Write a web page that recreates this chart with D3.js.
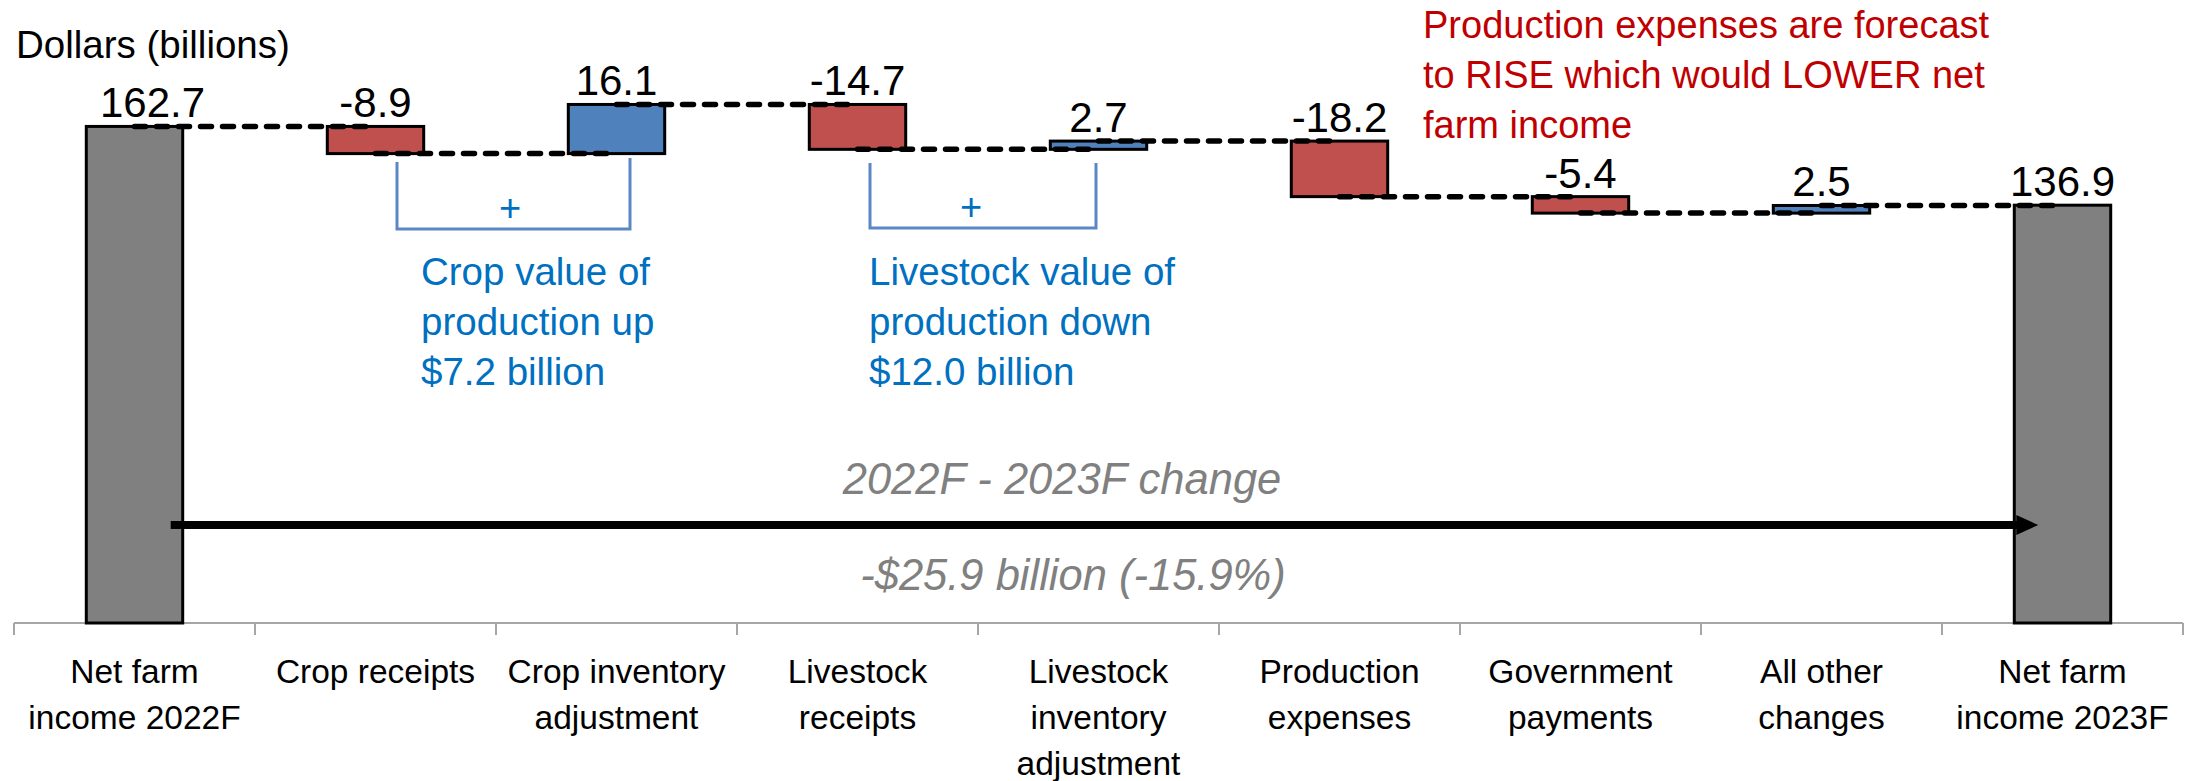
<!DOCTYPE html>
<html>
<head>
<meta charset="utf-8">
<script src="https://cdn.jsdelivr.net/npm/d3@7"></script>
<style>
	body { margin: 0; background: #fff; }
	svg { display: block; font-family: "Liberation Sans", Arial, sans-serif; }
</style>
</head>
<body>
<div id="root"></div>
<script>

// chart data
const categories = [
	"Net farm\nincome 2022F",
	"Crop receipts",
	"Crop inventory\nadjustment",
	"Livestock\nreceipts",
	"Livestock\ninventory\nadjustment",
	"Production\nexpenses",
	"Government\npayments",
	"All other\nchanges",
	"Net farm\nincome 2023F"
];
const values = [162.7, -8.9, 16.1, -14.7, 2.7, -18.2, -5.4, 2.5, 136.9];
const isTotal = [true, false, false, false, false, false, false, false, true];
const valueLabels = ["162.7", "-8.9", "16.1", "-14.7", "2.7", "-18.2", "-5.4", "2.5", "136.9"];

const yAxisTitle = "Dollars (billions)";
const redNote = ["Production expenses are forecast", "to RISE which would LOWER net", "farm income"];
const cropNote = ["Crop value of", "production up", "$7.2 billion"];
const livestockNote = ["Livestock value of", "production down", "$12.0 billion"];
const changeTitle = "2022F - 2023F change";
const changeValue = "-$25.9 billion (-15.9%)";

function whenDocumentLoaded(action) {
	if (document.readyState === "loading") {
		document.addEventListener("DOMContentLoaded", action);
	} else {
		action();
	}
}

function drawWaterfall() {
	const width = 2191;
	const height = 781;
	const axisY = 623;

	const svg = d3.select("#root")
		.append("svg")
		.attr("width", width)
		.attr("height", height);

	svg.append("rect").attr("width", width).attr("height", height).attr("fill", "#fff");

	const x = d3.scaleBand()
		.domain(categories)
		.range([14, 2183])
		.paddingInner(0.6)
		.paddingOuter(0.3);

	const y = d3.scaleLinear()
		.domain([0, 180])
		.range([axisY, axisY - 180 * 3.052]);

	// running totals for the waterfall
	let cum = 0;
	const bars = values.map((v, i) => {
		let start, end;
		if (isTotal[i]) { start = 0; end = v; }
		else { start = cum; end = cum + v; }
		cum = end;
		return {cat: categories[i], v: v, start: start, end: end, total: isTotal[i], label: valueLabels[i]};
	});

	const cx = d => x(d.cat) + x.bandwidth() / 2;
	const color = d => d.total ? "#808080" : (d.v < 0 ? "#C0504D" : "#4F81BD");

	// axis line and ticks at category boundaries
	const axis = svg.append("g").attr("class", "axis");
	axis.append("line")
		.attr("x1", x.range()[0]).attr("x2", x.range()[1])
		.attr("y1", axisY).attr("y2", axisY)
		.attr("stroke", "#A6A6A6").attr("stroke-width", 2);
	const bounds = d3.range(categories.length + 1).map(k => x.range()[0] + k * x.step());
	axis.selectAll(".tick")
		.data(bounds)
		.enter()
		.append("line")
		.attr("x1", d => d).attr("x2", d => d)
		.attr("y1", axisY).attr("y2", axisY + 12)
		.attr("stroke", "#A6A6A6").attr("stroke-width", 2);

	// category labels
	const catLabels = axis.selectAll(".cat")
		.data(categories)
		.enter()
		.append("text")
		.attr("class", "cat")
		.attr("text-anchor", "middle")
		.attr("font-size", 33.5)
		.attr("fill", "#000");
	catLabels.each(function(d) {
		const t = d3.select(this);
		d.split("\n").forEach((line, j) => {
			t.append("tspan")
				.attr("x", x(d) + x.bandwidth() / 2)
				.attr("y", 683 + j * 46)
				.text(line);
		});
	});

	// bars
	svg.selectAll(".bar")
		.data(bars)
		.enter()
		.append("rect")
		.attr("class", "bar")
		.attr("x", d => x(d.cat))
		.attr("width", x.bandwidth())
		.attr("y", d => y(Math.max(d.start, d.end)))
		.attr("height", d => Math.abs(y(d.start) - y(d.end)))
		.attr("fill", color)
		.attr("stroke", "#000")
		.attr("stroke-width", 3);

	// dashed connectors between bars
	svg.selectAll(".connector")
		.data(bars.slice(0, -1))
		.enter()
		.append("line")
		.attr("class", "connector")
		.attr("x1", d => cx(d))
		.attr("x2", (d, i) => cx(bars[i + 1]))
		.attr("y1", d => y(d.end))
		.attr("y2", d => y(d.end))
		.attr("stroke", "#000")
		.attr("stroke-width", 5.5)
		.attr("stroke-linecap", "round")
		.attr("stroke-dasharray", "11,11");

	// value labels
	svg.selectAll(".value")
		.data(bars)
		.enter()
		.append("text")
		.attr("class", "value")
		.attr("x", (d, i) => cx(d) + (i === 0 ? 18 : 0))
		.attr("y", d => y(Math.max(d.start, d.end)) - 9)
		.attr("text-anchor", "middle")
		.attr("font-size", 42)
		.attr("fill", "#000")
		.text(d => d.label);

	// y axis title
	svg.append("text")
		.attr("x", 16).attr("y", 58)
		.attr("font-size", 38.5)
		.text(yAxisTitle);

	// red note
	const red = svg.append("text").attr("font-size", 38).attr("fill", "#C00000");
	redNote.forEach((line, j) => {
		red.append("tspan").attr("x", 1423).attr("y", 38 + j * 50).text(line);
	});

	// brackets with plus signs and blue notes
	function bracket(x1, x2, top1, top2, bottom, plusX, note, noteX) {
		const g = svg.append("g");
		g.append("path")
			.attr("d", `M${x1},${top1} V${bottom} H${x2} V${top2}`)
			.attr("fill", "none")
			.attr("stroke", "#5B87C5")
			.attr("stroke-width", 3);
		g.append("text")
			.attr("x", plusX).attr("y", bottom - 8)
			.attr("text-anchor", "middle")
			.attr("font-size", 38)
			.attr("fill", "#0070C0")
			.text("+");
		const t = g.append("text").attr("font-size", 38.5).attr("fill", "#0070C0");
		note.forEach((line, j) => {
			t.append("tspan").attr("x", noteX).attr("y", 285 + j * 50).text(line);
		});
	}
	bracket(397, 630, 162, 158, 229, 510, cropNote, 421);
	bracket(870, 1096, 163, 163, 228, 971, livestockNote, 869);

	// change arrow across the chart
	const arrowY = 525;
	const first = bars[0], last = bars[bars.length - 1];
	const ax1 = x(first.cat) + x.bandwidth() - 12;
	const ax2 = x(last.cat) + 24;
	svg.append("line")
		.attr("x1", ax1).attr("x2", ax2 - 20)
		.attr("y1", arrowY).attr("y2", arrowY)
		.attr("stroke", "#000")
		.attr("stroke-width", 8);
	svg.append("path")
		.attr("d", `M${ax2 - 22},${arrowY - 10} L${ax2},${arrowY} L${ax2 - 22},${arrowY + 10} Z`)
		.attr("fill", "#000");

	svg.append("text")
		.attr("x", 1062).attr("y", 494)
		.attr("text-anchor", "middle")
		.attr("font-size", 43.5)
		.attr("font-style", "italic")
		.attr("fill", "#808080")
		.text(changeTitle);
	svg.append("text")
		.attr("x", 1073).attr("y", 590)
		.attr("text-anchor", "middle")
		.attr("font-size", 43.5)
		.attr("font-style", "italic")
		.attr("fill", "#808080")
		.text(changeValue);
}

whenDocumentLoaded(() => {
	drawWaterfall();
});
</script>
</body>
</html>
